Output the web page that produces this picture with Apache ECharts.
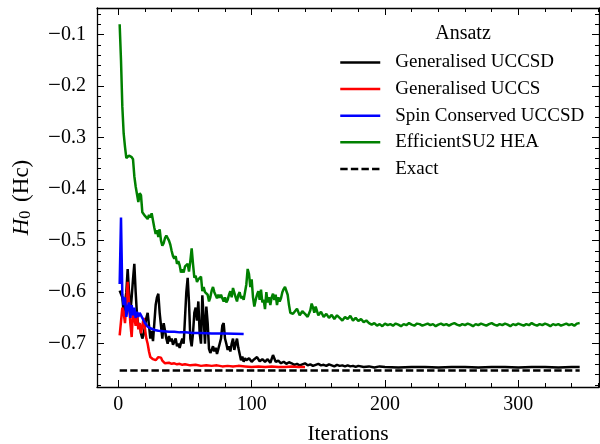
<!DOCTYPE html>
<html>
<head>
<meta charset="utf-8">
<script src="https://cdn.jsdelivr.net/npm/echarts@6/dist/echarts.min.js"></script>
<style>html,body{margin:0;padding:0;background:#fff}#chart{width:600px;height:444px}</style>
</head>
<body>
<div id="chart"></div>
<script>
// ---- data ----
const seriesNames = ['Generalised UCCSD', 'Generalised UCCS', 'Spin Conserved UCCSD', 'EfficientSU2 HEA', 'Exact'];
const xTickValues = [0, 100, 200, 300];
const xMinorTickValues = [0, 20, 40, 60, 80, 100, 120, 140, 160, 180, 200, 220, 240, 260, 280, 300, 320, 340, 360];
const yTickValues = [-0.7, -0.6, -0.5, -0.4, -0.3, -0.2, -0.1];
const yMinorTickValues = [-0.78, -0.76, -0.74, -0.72, -0.7, -0.68, -0.66, -0.64, -0.62, -0.6, -0.58, -0.56, -0.54, -0.52, -0.5, -0.48, -0.46, -0.44, -0.42, -0.4, -0.38, -0.36, -0.34, -0.32, -0.3, -0.28, -0.26, -0.24, -0.22, -0.2, -0.18, -0.16, -0.14, -0.12, -0.1, -0.08, -0.06];

const genUCCSD = [
[1,-0.597],[2,-0.600],[3,-0.610],[4,-0.640],[5,-0.620],[6,-0.600],[7,-0.555],[8,-0.600],[9,-0.640],[10,-0.610],
[11,-0.575],[12,-0.545],[13,-0.600],[14,-0.645],[15,-0.665],[16,-0.660],[17,-0.680],[18,-0.690],[19,-0.682],[20,-0.665],
[21,-0.650],[22,-0.640],[23,-0.665],[24,-0.690],[25,-0.675],[26,-0.695],[27,-0.660],[28,-0.625],[29,-0.610],[30,-0.603],
[31,-0.640],[32,-0.665],[33,-0.690],[34,-0.660],[35,-0.675],[36,-0.690],[37,-0.700],[38,-0.685],[39,-0.695],[40,-0.690],
[41,-0.702],[42,-0.700],[43,-0.690],[44,-0.705],[45,-0.700],[46,-0.708],[47,-0.698],[48,-0.690],[49,-0.700],[50,-0.650],
[51,-0.600],[52,-0.572],[53,-0.620],[54,-0.690],[55,-0.705],[56,-0.680],[57,-0.640],[58,-0.630],[59,-0.655],[60,-0.618],
[61,-0.680],[62,-0.700],[63,-0.606],[64,-0.650],[65,-0.700],[66,-0.628],[67,-0.660],[68,-0.710],[69,-0.718],[70,-0.712],
[71,-0.705],[72,-0.715],[73,-0.708],[74,-0.720],[75,-0.710],[76,-0.700],[77,-0.690],[78,-0.665],[79,-0.660],[80,-0.690],
[81,-0.700],[82,-0.712],[83,-0.705],[84,-0.715],[85,-0.700],[86,-0.690],[87,-0.712],[88,-0.700],[89,-0.690],[90,-0.708],
[91,-0.720],[92,-0.732],[93,-0.725],[94,-0.735],[95,-0.728],[96,-0.732],[98,-0.728],[100,-0.735],[102,-0.730],[104,-0.726],
[106,-0.734],[108,-0.730],[110,-0.735],[112,-0.730],[114,-0.737],[116,-0.722],[118,-0.735],[120,-0.733],[122,-0.738],[124,-0.735],
[126,-0.739],[128,-0.736],[130,-0.738],[132,-0.741],[134,-0.739],[136,-0.742],[138,-0.740],[140,-0.738],[142,-0.742],[144,-0.740],
[146,-0.743],[148,-0.741],[150,-0.739],[152,-0.742],[154,-0.741],[156,-0.743],[158,-0.740],[160,-0.742],[162,-0.744],[164,-0.741],
[166,-0.743],[168,-0.742],[170,-0.744],[172,-0.742],[174,-0.744],[176,-0.743],[178,-0.745],[180,-0.743],[184,-0.745],[188,-0.744],
[192,-0.746],[196,-0.744],[200,-0.745],[210,-0.746],[220,-0.745],[230,-0.745],[240,-0.746],[250,-0.745],[260,-0.745],[270,-0.746],
[280,-0.745],[290,-0.745],[300,-0.746],[310,-0.745],[320,-0.745],[330,-0.746],[340,-0.745],[346,-0.745]
];

const genUCCS = [
[1,-0.684],[2,-0.684],[3,-0.630],[4,-0.640],[5,-0.660],[6,-0.622],[7,-0.580],[8,-0.620],[9,-0.660],[10,-0.687],
[11,-0.640],[12,-0.650],[13,-0.665],[14,-0.645],[15,-0.672],[16,-0.660],[17,-0.680],[18,-0.665],[19,-0.650],[20,-0.672],
[21,-0.690],[22,-0.700],[23,-0.715],[24,-0.726],[25,-0.728],[26,-0.730],[27,-0.727],[28,-0.732],[29,-0.730],[30,-0.726],
[31,-0.724],[32,-0.727],[33,-0.733],[34,-0.736],[35,-0.738],[36,-0.739],[38,-0.737],[40,-0.739],[42,-0.738],[44,-0.740],
[46,-0.739],[48,-0.741],[50,-0.740],[54,-0.742],[58,-0.741],[62,-0.743],[66,-0.742],[70,-0.743],[74,-0.742],[78,-0.744],
[82,-0.743],[86,-0.744],[90,-0.743],[95,-0.744],[100,-0.745],[105,-0.744],[110,-0.745],[115,-0.744],[120,-0.745],[125,-0.745],
[130,-0.744],[135,-0.745],[140,-0.745]
];

const spinUCCSD = [
[1,-0.584],[2,-0.455],[3,-0.605],[4,-0.625],[5,-0.610],[6,-0.648],[7,-0.630],[8,-0.620],[9,-0.650],[10,-0.625],
[11,-0.645],[12,-0.630],[13,-0.650],[14,-0.638],[15,-0.648],[16,-0.640],[17,-0.645],[18,-0.643],[19,-0.655],[20,-0.660],
[21,-0.662],[22,-0.667],[24,-0.670],[26,-0.672],[28,-0.674],[30,-0.675],[34,-0.676],[38,-0.677],[42,-0.677],[46,-0.678],
[50,-0.678],[56,-0.679],[62,-0.679],[70,-0.680],[80,-0.680],[94,-0.681]
];

const effSU2 = [
[1,-0.080],[2,-0.150],[3,-0.240],[4,-0.292],[5,-0.318],[6,-0.340],[7,-0.343],[8,-0.335],[9,-0.333],[10,-0.338],
[11,-0.342],[12,-0.375],[13,-0.395],[14,-0.410],[15,-0.425],[16,-0.408],[17,-0.412],[18,-0.445],[19,-0.448],[20,-0.452],
[21,-0.455],[22,-0.458],[23,-0.450],[24,-0.455],[25,-0.447],[26,-0.444],[27,-0.475],[28,-0.487],[29,-0.480],[30,-0.493],
[31,-0.478],[32,-0.500],[33,-0.510],[34,-0.505],[35,-0.495],[36,-0.490],[37,-0.488],[38,-0.500],[39,-0.508],[40,-0.520],
[41,-0.530],[42,-0.535],[43,-0.530],[44,-0.545],[45,-0.540],[46,-0.548],[47,-0.562],[48,-0.556],[49,-0.562],[50,-0.550],
[51,-0.553],[52,-0.545],[53,-0.560],[54,-0.540],[55,-0.515],[56,-0.545],[57,-0.572],[58,-0.568],[59,-0.580],[60,-0.575],
[61,-0.578],[62,-0.570],[63,-0.598],[64,-0.590],[65,-0.600],[66,-0.597],[67,-0.605],[68,-0.618],[69,-0.610],[70,-0.597],
[71,-0.590],[72,-0.600],[73,-0.598],[74,-0.612],[75,-0.605],[76,-0.611],[77,-0.605],[78,-0.612],[79,-0.618],[80,-0.610],
[81,-0.620],[82,-0.615],[83,-0.605],[84,-0.598],[85,-0.610],[86,-0.592],[87,-0.590],[88,-0.610],[89,-0.618],[90,-0.605],
[91,-0.600],[92,-0.612],[93,-0.608],[94,-0.615],[95,-0.600],[96,-0.585],[97,-0.555],[98,-0.565],[99,-0.590],[100,-0.575],
[101,-0.610],[102,-0.628],[103,-0.615],[104,-0.605],[105,-0.598],[106,-0.615],[107,-0.595],[108,-0.620],[109,-0.615],[110,-0.633],
[111,-0.600],[112,-0.620],[113,-0.610],[114,-0.625],[115,-0.610],[116,-0.603],[117,-0.615],[118,-0.605],[119,-0.625],[120,-0.610],
[121,-0.618],[122,-0.612],[123,-0.600],[124,-0.594],[125,-0.590],[126,-0.588],[127,-0.605],[128,-0.625],[129,-0.640],[130,-0.638],
[131,-0.642],[132,-0.640],[134,-0.632],[136,-0.645],[138,-0.637],[140,-0.642],[142,-0.648],[144,-0.635],[145,-0.622],[146,-0.630],
[147,-0.640],[148,-0.628],[150,-0.645],[152,-0.638],[154,-0.648],[156,-0.642],[158,-0.650],[160,-0.644],[162,-0.652],[164,-0.645],
[166,-0.650],[168,-0.655],[170,-0.648],[172,-0.652],[174,-0.646],[176,-0.655],[178,-0.650],[180,-0.656],[182,-0.652],[184,-0.658],
[186,-0.655],[188,-0.660],[190,-0.663],[192,-0.660],[194,-0.665],[196,-0.662],[198,-0.666],[200,-0.661],[202,-0.664],[204,-0.662],
[206,-0.665],[208,-0.661],[210,-0.663],[212,-0.666],[214,-0.662],[216,-0.664],[218,-0.660],[220,-0.663],[222,-0.665],[224,-0.661],
[226,-0.662],[228,-0.665],[230,-0.663],[232,-0.661],[234,-0.664],[236,-0.662],[238,-0.666],[240,-0.663],[242,-0.661],[244,-0.664],
[246,-0.662],[248,-0.665],[250,-0.662],[252,-0.660],[254,-0.663],[256,-0.665],[258,-0.662],[260,-0.664],[262,-0.661],[264,-0.663],
[266,-0.666],[268,-0.662],[270,-0.664],[272,-0.661],[274,-0.663],[276,-0.665],[278,-0.662],[280,-0.660],[282,-0.663],[284,-0.665],
[286,-0.662],[288,-0.664],[290,-0.661],[292,-0.663],[294,-0.666],[296,-0.662],[298,-0.664],[300,-0.661],[302,-0.663],[304,-0.665],
[306,-0.662],[308,-0.664],[310,-0.660],[312,-0.663],[314,-0.665],[316,-0.662],[318,-0.664],[320,-0.661],[322,-0.663],[324,-0.666],
[326,-0.662],[328,-0.664],[330,-0.662],[332,-0.665],[334,-0.663],[336,-0.661],[338,-0.664],[340,-0.662],[342,-0.665],[344,-0.661],
[346,-0.660]
];

const exactH = [[1,-0.752],[346,-0.752]];

// ---- chart ----
const FONT = 'Liberation Serif';
const X_MIN = -16, X_MAX = 360.5, Y_MIN = -0.784, Y_MAX = -0.0486;
const chart = echarts.init(document.getElementById('chart'), null, {renderer: 'canvas'});

function xAxisDef(pos, ticks, len, showLine, showLabel, extra) {
  return Object.assign({
    type: 'value', position: pos, min: X_MIN, max: X_MAX,
    axisLine: {show: showLine, onZero: false, lineStyle: {color: '#000', width: 1.3}},
    axisTick: {show: true, inside: true, length: len, customValues: ticks, lineStyle: {color: '#000', width: 1}},
    axisLabel: showLabel ? {show: true, customValues: ticks, margin: 8, color: '#000', fontFamily: FONT, fontSize: 20} : {show: false},
    splitLine: {show: false}
  }, extra || {});
}
function yAxisDef(pos, ticks, len, showLine, showLabel, extra) {
  return Object.assign({
    type: 'value', position: pos, min: Y_MIN, max: Y_MAX,
    axisLine: {show: showLine, onZero: false, lineStyle: {color: '#000', width: 1.3}},
    axisTick: {show: true, inside: true, length: len, customValues: ticks, lineStyle: {color: '#000', width: 1}},
    axisLabel: showLabel ? {show: true, customValues: ticks, margin: 11, color: '#000', fontFamily: FONT, fontSize: 20,
      formatter: v => '{m|\u2212}' + Math.abs(v).toFixed(1),
      rich: {m: {fontFamily: FONT, fontSize: 23, color: '#000'}}} : {show: false},
    splitLine: {show: false}
  }, extra || {});
}

const colors = ['#000000', '#ff0000', '#0000ff', '#008000', '#000000'];
const dataSets = [genUCCSD, genUCCS, spinUCCSD, effSU2, exactH];

chart.setOption({
  animation: false,
  backgroundColor: '#fff',
  title: {
    text: 'Ansatz', left: 463, top: 24, textAlign: 'center', padding: 0,
    textStyle: {fontFamily: FONT, fontSize: 20, fontWeight: 'normal', color: '#000'}
  },
  legend: {
    orient: 'vertical', left: 339, top: 53, padding: 0,
    itemWidth: 40, itemHeight: 20, itemGap: 7.6,
    data: seriesNames,
    itemStyle: {color: 'rgba(0,0,0,0)', borderWidth: 0, opacity: 0},
    lineStyle: {width: 2.5},
    textStyle: {fontFamily: FONT, fontSize: 19, color: '#000', padding: [0, 0, 0, 10]}
  },
  grid: {left: 97, top: 8, right: 1, bottom: 57, containLabel: false, outerBoundsMode: 'none'},
  xAxis: [
    xAxisDef('bottom', xTickValues, 7, true, true, {
      name: 'Iterations', nameLocation: 'middle', nameGap: 36,
      nameTextStyle: {fontFamily: FONT, fontSize: 21.5, color: '#000'}
    }),
    xAxisDef('bottom', xMinorTickValues, 4, false, false),
    xAxisDef('top', xTickValues, 7, true, false),
    xAxisDef('top', xMinorTickValues, 4, false, false)
  ],
  yAxis: [
    yAxisDef('left', yTickValues, 7, true, true, {
      name: '{i|H}{s|0} (Hc)', nameLocation: 'middle', nameGap: 63, nameRotate: 90,
      nameTextStyle: {
        fontFamily: FONT, fontSize: 23, color: '#000',
        rich: {
          i: {fontFamily: FONT, fontSize: 23, fontStyle: 'italic', color: '#000'},
          s: {fontFamily: FONT, fontSize: 16, color: '#000', verticalAlign: 'bottom', padding: [9, 3, 0, 0]}
        }
      }
    }),
    yAxisDef('left', yMinorTickValues, 4, false, false),
    yAxisDef('right', yTickValues, 7, true, false),
    yAxisDef('right', yMinorTickValues, 4, false, false)
  ],
  series: seriesNames.map((name, i) => ({
    name: name, type: 'line', data: dataSets[i],
    xAxisIndex: 0, yAxisIndex: 0,
    symbol: 'none', showSymbol: false, smooth: false,
    color: colors[i],
    lineStyle: {color: colors[i], width: 2.5, type: i === 4 ? [7.4, 3.2] : 'solid'},
    emphasis: {disabled: true}
  }))
});
</script>
</body>
</html>
